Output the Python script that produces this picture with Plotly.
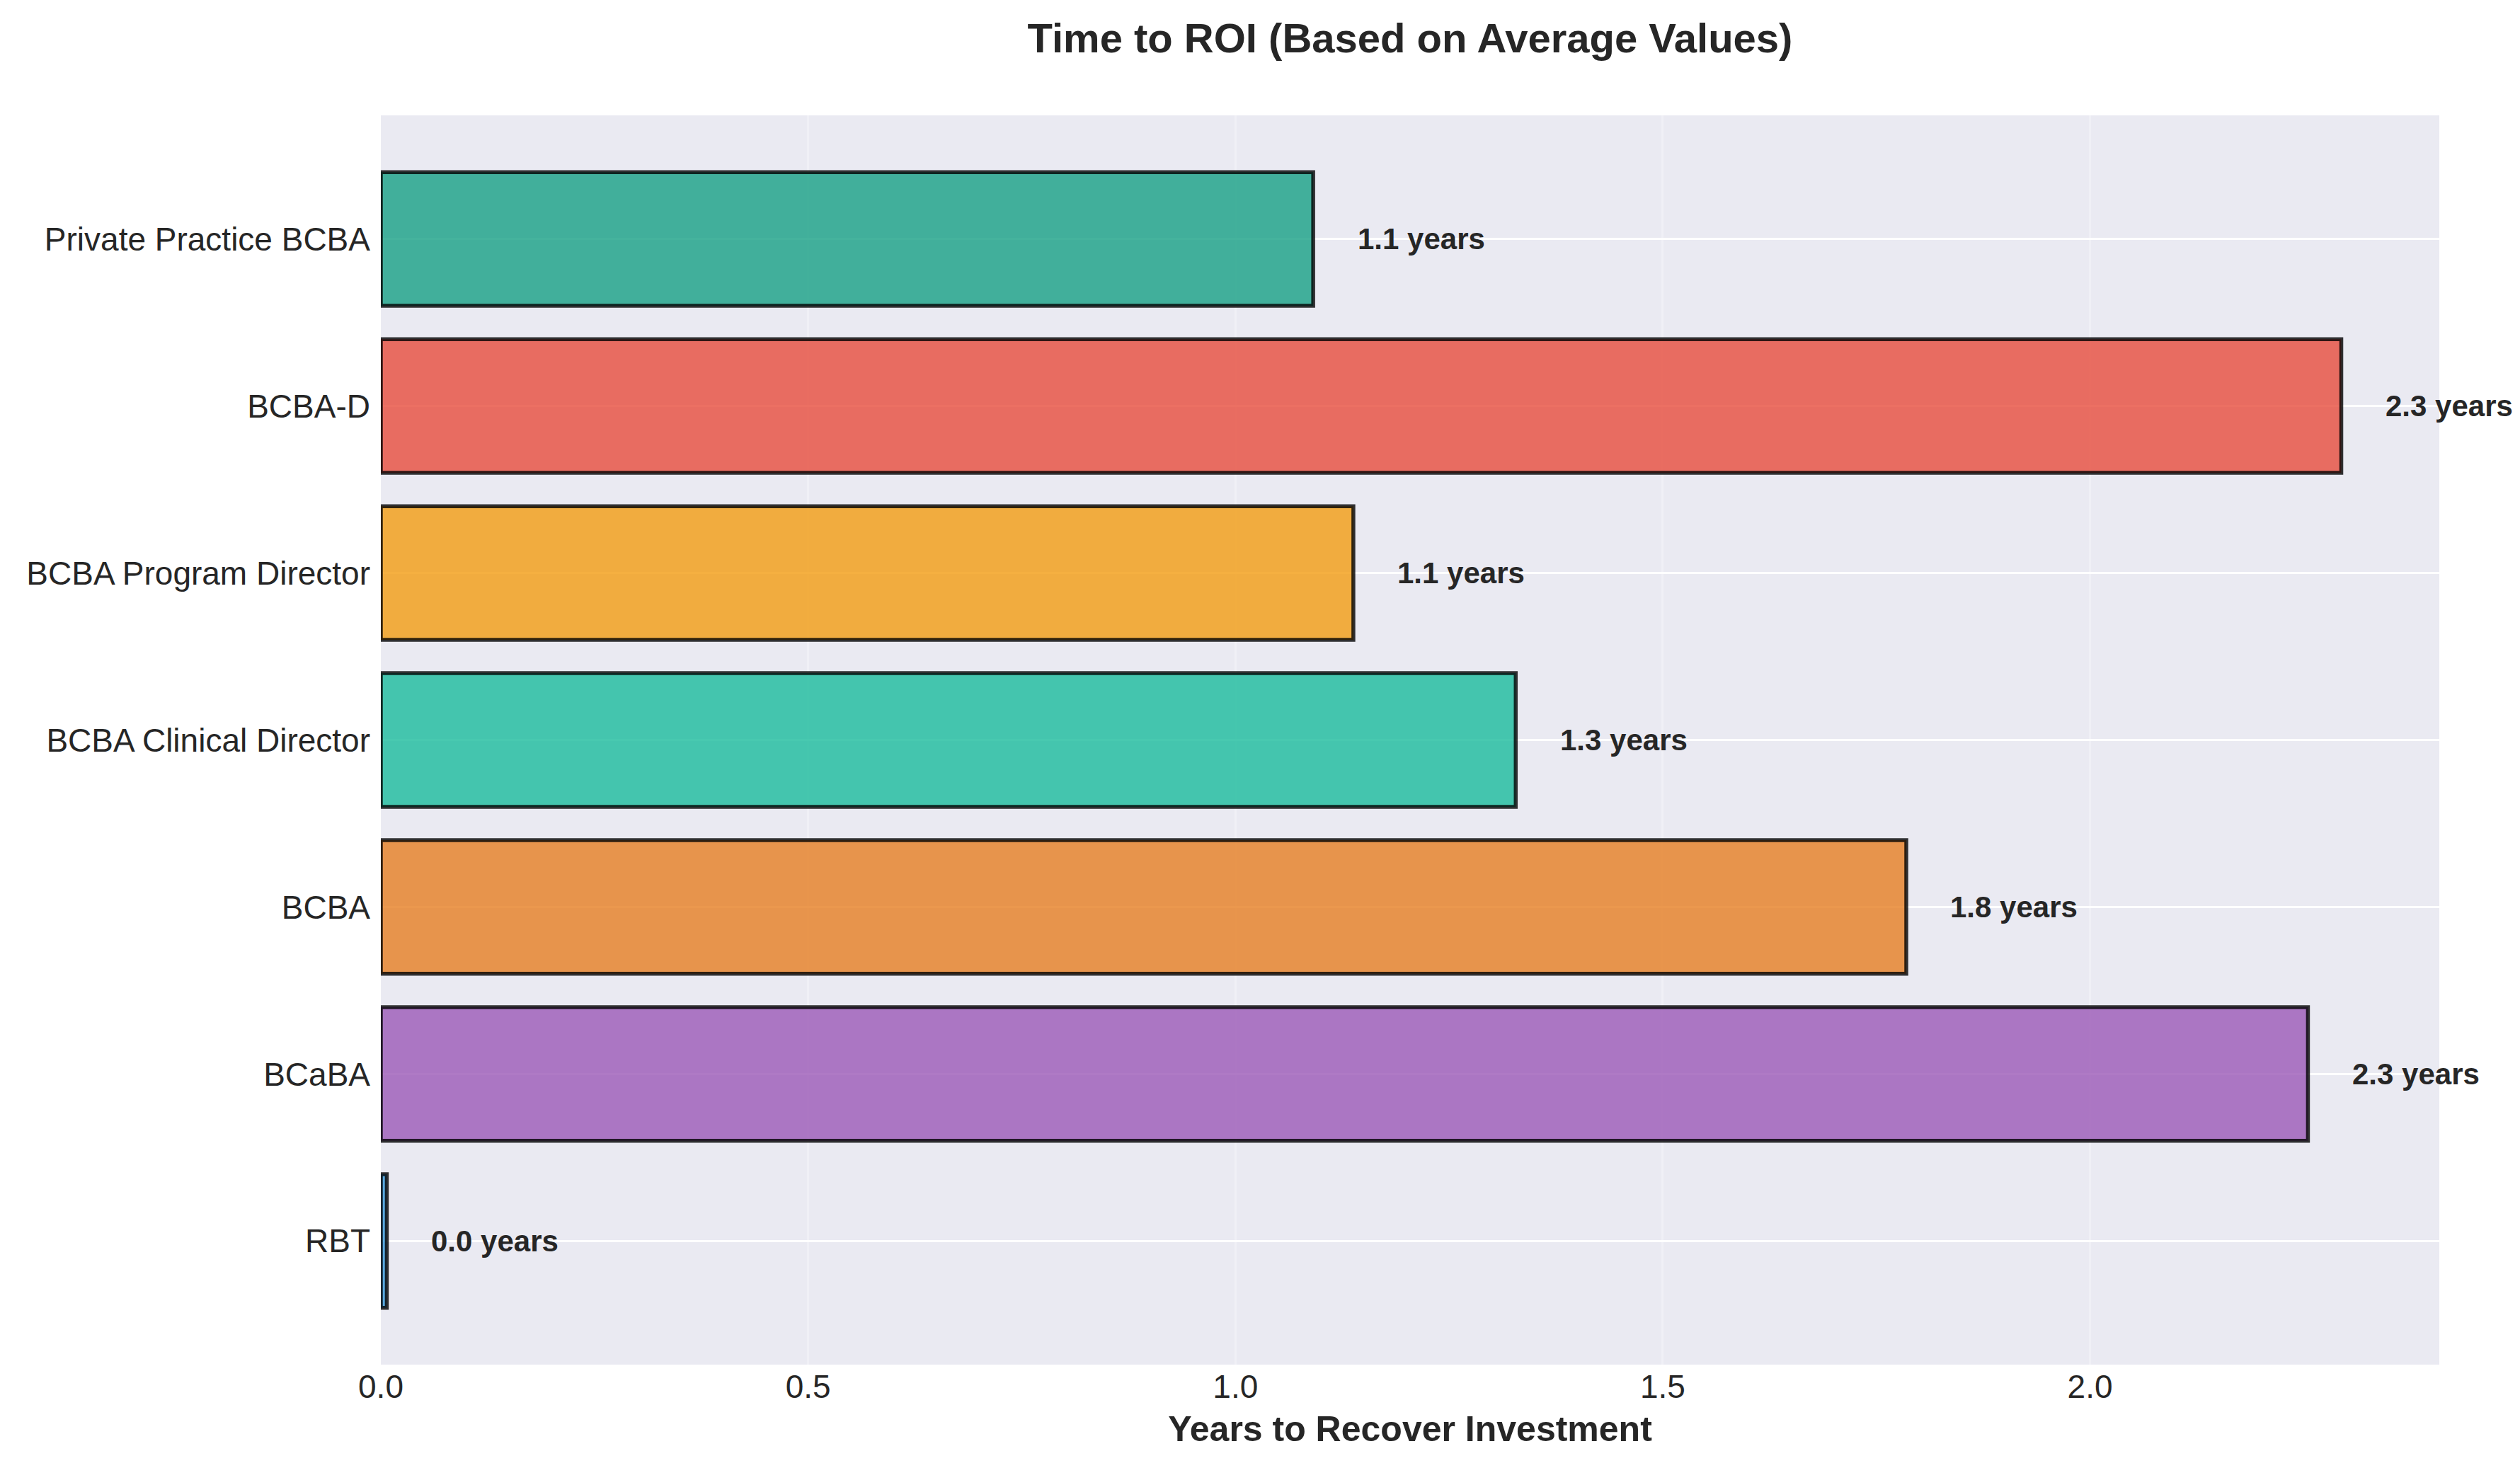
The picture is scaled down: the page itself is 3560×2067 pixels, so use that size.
import plotly.graph_objects as go

# Data (bottom to top, as drawn)
roles = ["RBT", "BCaBA", "BCBA", "BCBA Clinical Director",
         "BCBA Program Director", "BCBA-D", "Private Practice BCBA"]
years_to_roi = [0.007, 2.255, 1.785, 1.328, 1.138, 2.294, 1.091]
bar_colors = ["#3498db", "#9b59b6", "#e67e22", "#1abc9c",
              "#f39c12", "#e74c3c", "#16a085"]
x_ticks = [0.0, 0.5, 1.0, 1.5, 2.0]

W, H = 3560, 2067
L, R, T, B = 530, 122, 155, 147
FONT = "Liberation Sans, Arial, sans-serif"
TXT = "#262626"


def rgba(hexc, a):
    h = hexc.lstrip("#")
    return f"rgba({int(h[0:2],16)},{int(h[2:4],16)},{int(h[4:6],16)},{a})"


fig = go.Figure()
fig.add_trace(go.Bar(
    y=roles, x=years_to_roi, orientation="h", width=0.8,
    marker=dict(color=[rgba(c, 0.8) for c in bar_colors],
                line=dict(color="rgba(0,0,0,0.8)", width=5.5)),
    hoverinfo="x+y", showlegend=False,
))

for r, v in zip(roles, years_to_roi):
    fig.add_annotation(
        x=v + 0.05, y=r, xref="x", yref="y",
        text=f"<b>{v:.1f} years</b>", showarrow=False,
        xanchor="left", yanchor="middle",
        font=dict(family=FONT, size=42, color=TXT),
    )

x_max = max(years_to_roi) * 1.05

fig.update_layout(
    width=W, height=H,
    margin=dict(l=L, r=R, t=T, b=B, pad=0),
    paper_bgcolor="white", plot_bgcolor="#EAEAF2",
    font=dict(family=FONT, color=TXT),
    title=dict(text="<b>Time to ROI (Based on Average Values)</b>",
               x=0.5, xref="paper", xanchor="center",
               y=1 - 46 / H, yref="container", yanchor="middle",
               font=dict(family=FONT, size=58, color=TXT)),
    xaxis=dict(
        range=[0, x_max], tickvals=x_ticks,
        ticktext=[f"{t:.1f}" for t in x_ticks],
        showgrid=True, gridcolor="rgba(255,255,255,0.3)", gridwidth=3,
        zeroline=False, showline=False, ticks="",
        tickfont=dict(family=FONT, size=46, color=TXT),
        title=dict(text="<b>Years to Recover Investment</b>",
                   font=dict(family=FONT, size=50, color=TXT), standoff=16),
    ),
    yaxis=dict(
        type="category", categoryorder="array", categoryarray=roles,
        range=[-0.74, len(roles) - 1 + 0.74],
        showgrid=True, gridcolor="white", gridwidth=3,
        zeroline=False, showline=False, ticks="",
        ticklabelstandoff=14,
        tickfont=dict(family=FONT, size=46, color=TXT),
    ),
)

fig.write_html("out.html")
